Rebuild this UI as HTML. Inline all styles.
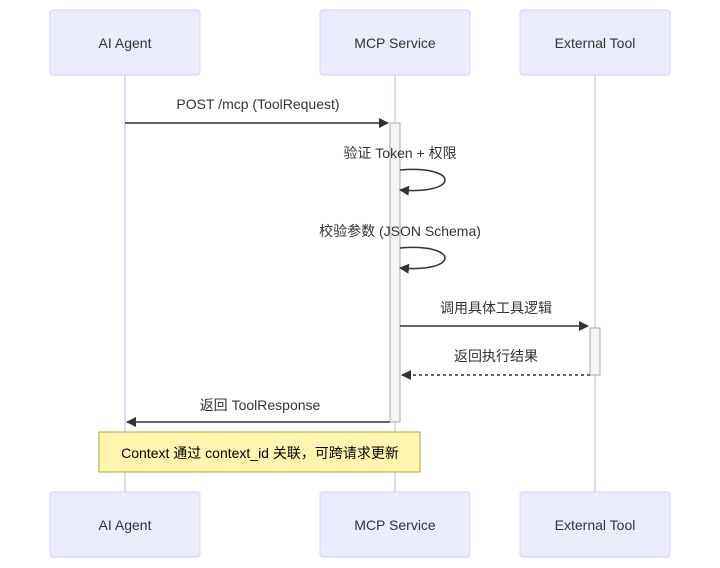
<!DOCTYPE html>
<html><head><meta charset="utf-8"><style>body{margin:0;background:#fff}svg{display:block}text{font-family:"Liberation Sans","Noto Sans CJK SC",sans-serif;font-size:14px;fill:#333}</style></head><body>
<svg width="720" height="568" viewBox="0 0 720 568" xmlns="http://www.w3.org/2000/svg">
<defs><marker id="a" viewBox="0 0 10 10" refX="9" refY="5" markerWidth="10" markerHeight="10" markerUnits="userSpaceOnUse" orient="auto"><path d="M0,0L10,5L0,10z" fill="#333"/></marker></defs>
<g stroke="#d5cdf0" stroke-width="1.5"><line x1="125" y1="75" x2="125" y2="492"/><line x1="395" y1="75" x2="395" y2="492"/><line x1="595" y1="75" x2="595" y2="492"/></g>
<g fill="#ececff" stroke="#d9d2f5" stroke-width="1">
<rect x="50" y="10" width="150" height="65" rx="3"/><rect x="320" y="10" width="150" height="65" rx="3"/><rect x="520" y="10" width="150" height="65" rx="3"/>
<rect x="50" y="492" width="150" height="65" rx="3"/><rect x="320" y="492" width="150" height="65" rx="3"/><rect x="520" y="492" width="150" height="65" rx="3"/></g>
<g text-anchor="middle">
<text x="125" y="48">AI Agent</text><text x="395" y="48">MCP Service</text><text x="595" y="48">External Tool</text>
<text x="125" y="530">AI Agent</text><text x="395" y="530">MCP Service</text><text x="595" y="530">External Tool</text></g>
<rect x="390" y="123" width="10" height="299" fill="#f4f4f4" stroke="#aaa"/>
<rect x="590" y="328" width="10" height="47" fill="#f4f4f4" stroke="#aaa"/>
<g stroke="#333" stroke-width="1.5" fill="none">
<line x1="125" y1="123" x2="388" y2="123" marker-end="url(#a)"/>
<path d="M400,170 C460,165 460,195 400,190" marker-end="url(#a)"/>
<path d="M400,248 C460,243 460,273 400,268" marker-end="url(#a)"/>
<line x1="400" y1="326" x2="588" y2="326" marker-end="url(#a)"/>
<line x1="590" y1="375" x2="402" y2="375" stroke-dasharray="3,3" marker-end="url(#a)"/>
<line x1="390" y1="422" x2="127" y2="422" marker-end="url(#a)"/></g>
<g text-anchor="middle">
<text x="258" y="109">POST /mcp (ToolRequest)</text>
<text x="400" y="158">验证 Token + 权限</text>
<text x="400" y="236">校验参数 (JSON Schema)</text>
<text x="496" y="313">调用具体工具逻辑</text>
<text x="496" y="361">返回执行结果</text>
<text x="260" y="410">返回 ToolResponse</text></g>
<rect x="99" y="432" width="321" height="40" fill="#fff5ad" stroke="#aaaa33"/>
<text x="260" y="458" text-anchor="middle" style="fill:#000">Context 通过 context_id 关联，可跨请求更新</text>
</svg></body></html>
